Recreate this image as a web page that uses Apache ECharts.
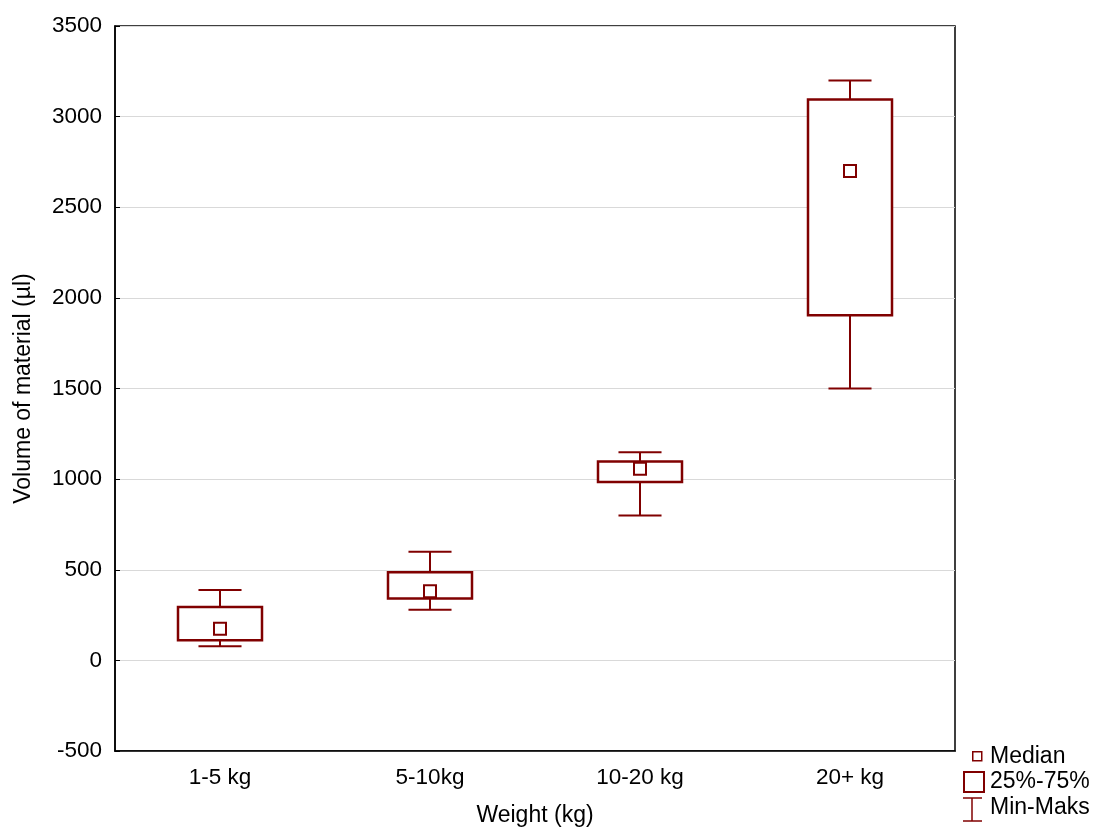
<!DOCTYPE html>
<html>
<head>
<meta charset="utf-8">
<script src="https://cdn.jsdelivr.net/npm/echarts@6/dist/echarts.min.js"></script>
<style>
  html, body { margin: 0; padding: 0; background: #fff; }
  #chart { width: 1094px; height: 828px; }
</style>
</head>
<body>
<div id="chart"></div>
<script>
// weight classes and box values (µl)
var categories = ['1-5 kg', '5-10kg', '10-20 kg', '20+ kg'];
var minVals    = [78, 279, 799, 1500];
var q1Vals     = [111, 342, 984, 1904];
var medianVals = [174, 381, 1057, 2700];
var q3Vals     = [295, 486, 1097, 3095];
var maxVals    = [388, 600, 1148, 3200];

var yTicks = { min: -500, max: 3500, interval: 500 };

var RED = '#800000';
var FONT = 'Liberation Sans, Arial, sans-serif';

var chart = echarts.init(document.getElementById('chart'));

var boxData = categories.map(function (c, i) {
    return [i, minVals[i], q1Vals[i], medianVals[i], q3Vals[i], maxVals[i]];
});

// whisker, box and median square for one category
function renderBox(params, api) {
    var i = api.value(0);
    var band = api.size([1, 0])[0];
    var pMin = api.coord([i, api.value(1)]);
    var pQ1 = api.coord([i, api.value(2)]);
    var pMed = api.coord([i, api.value(3)]);
    var pQ3 = api.coord([i, api.value(4)]);
    var pMax = api.coord([i, api.value(5)]);
    var cx = pMed[0];
    var bw = band * 0.4, cw = band * 0.205, ms = 12;
    var ls = { stroke: RED, lineWidth: 2, fill: null };
    return {
        type: 'group',
        children: [
            { type: 'line', shape: { x1: cx, y1: pMax[1], x2: cx, y2: pQ3[1] }, style: ls },
            { type: 'line', shape: { x1: cx - cw / 2, y1: pMax[1], x2: cx + cw / 2, y2: pMax[1] }, style: ls },
            { type: 'line', shape: { x1: cx, y1: pQ1[1], x2: cx, y2: pMin[1] }, style: ls },
            { type: 'line', shape: { x1: cx - cw / 2, y1: pMin[1], x2: cx + cw / 2, y2: pMin[1] }, style: ls },
            { type: 'rect', shape: { x: cx - bw / 2, y: pQ3[1], width: bw, height: pQ1[1] - pQ3[1] },
              style: { stroke: RED, lineWidth: 2.5, fill: '#fff' } },
            { type: 'rect', shape: { x: cx - ms / 2, y: pMed[1] - ms / 2, width: ms, height: ms },
              style: { stroke: RED, lineWidth: 2, fill: '#fff' } }
        ]
    };
}

var option = {
    backgroundColor: '#fff',
    animation: false,
    textStyle: { fontFamily: FONT },
    grid: { left: 115, right: 139, top: 26, bottom: 77, outerBoundsMode: 'none', containLabel: false,
            show: true, borderColor: '#000', borderWidth: 1.5, backgroundColor: 'transparent' },
    xAxis: {
        type: 'category',
        data: categories,
        name: 'Weight (kg)',
        nameLocation: 'middle',
        nameGap: 53,
        nameTextStyle: { fontSize: 23, color: '#000', fontFamily: FONT },
        axisLine: { show: true, onZero: false, lineStyle: { color: '#000', width: 1.5 } },
        axisTick: { show: false },
        axisLabel: { fontSize: 22.5, color: '#000', fontFamily: FONT, margin: 15 },
        splitLine: { show: false }
    },
    yAxis: {
        type: 'value',
        min: yTicks.min,
        max: yTicks.max,
        interval: yTicks.interval,
        name: 'Volume of material (µl)',
        nameLocation: 'middle',
        nameGap: 80,
        nameTextStyle: { fontSize: 23, color: '#000', fontFamily: FONT },
        axisLine: { show: true, lineStyle: { color: '#000', width: 1.5 } },
        axisTick: { show: true, inside: true, length: 5, lineStyle: { color: '#000' } },
        axisLabel: { fontSize: 22.5, color: '#000', fontFamily: FONT, margin: 13,
                     formatter: function (v) { return String(v); } },
        splitLine: { show: true, lineStyle: { color: '#d9d9d9', width: 1 } }
    },
    series: [{
        type: 'custom',
        renderItem: renderBox,
        data: boxData,
        encode: { x: 0, y: [1, 2, 3, 4, 5] },
        z: 5
    }],
    graphic: [
        { type: 'rect', left: 972, top: 751, shape: { width: 9, height: 9 }, style: { stroke: RED, lineWidth: 1.5, fill: '#fff' } },
        { type: 'text', left: 990, top: 745, style: { text: 'Median', fontSize: 23, fill: '#000', fontFamily: FONT } },
        { type: 'rect', left: 963, top: 771, shape: { width: 20, height: 20 }, style: { stroke: RED, lineWidth: 2, fill: '#fff' } },
        { type: 'text', left: 990, top: 770, style: { text: '25%-75%', fontSize: 23, fill: '#000', fontFamily: FONT } },
        { type: 'line', shape: { x1: 972, y1: 798, x2: 972, y2: 821 }, style: { stroke: RED, lineWidth: 1.5 } },
        { type: 'line', shape: { x1: 963, y1: 798, x2: 982, y2: 798 }, style: { stroke: RED, lineWidth: 1.5 } },
        { type: 'line', shape: { x1: 963, y1: 821, x2: 982, y2: 821 }, style: { stroke: RED, lineWidth: 1.5 } },
        { type: 'text', left: 990, top: 796, style: { text: 'Min-Maks', fontSize: 23, fill: '#000', fontFamily: FONT } }
    ]
};

chart.setOption(option);
</script>
</body>
</html>
